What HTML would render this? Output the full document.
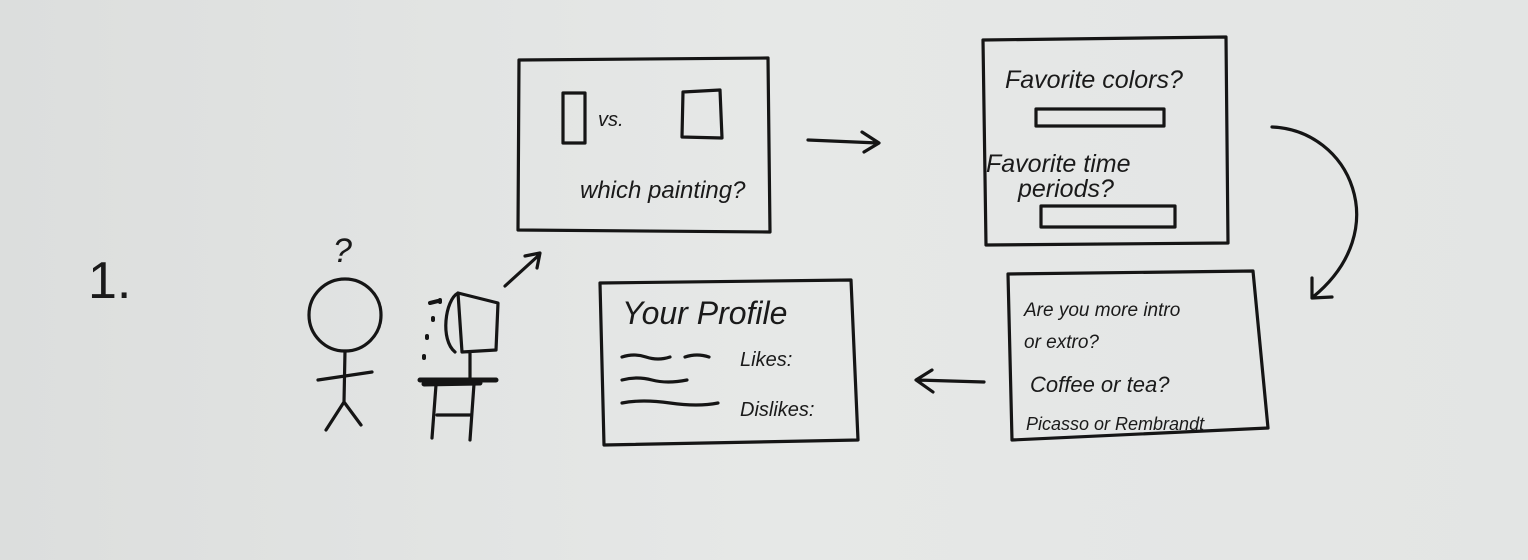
<!DOCTYPE html>
<html><head><meta charset="utf-8"><style>
html,body{margin:0;padding:0;}
body{width:1528px;height:560px;background:linear-gradient(90deg,#dcdedd,#e6e8e7 50%,#e3e5e4);overflow:hidden;}
svg{display:block}
text{font-family:"Liberation Sans",sans-serif;fill:#1a1a1a;font-style:italic}
</style></head><body>
<svg width="1528" height="560" viewBox="0 0 1528 560">
<g fill="none" stroke="#151515" stroke-width="3.2" stroke-linecap="round" stroke-linejoin="round">
<!-- box1 -->
<path d="M519 60 L768 58 L770 232 L518 230 Z"/>
<rect x="563" y="93" width="22" height="50"/>
<path d="M683 92 L720 90 L722 138 L682 137 Z"/>
<!-- arrow right -->
<path d="M808 140 L878 143 M862 132 L879 143 L864 152"/>
<!-- box2 -->
<path d="M983 40 L1226 37 L1228 243 L986 245 Z"/>
<rect x="1036" y="109" width="128" height="17"/>
<rect x="1041" y="206" width="134" height="21"/>
<!-- curved arrow -->
<path d="M1272 127 C1350 130 1395 230 1313 297 M1312 278 L1312 298 L1332 297"/>
<!-- box3 -->
<path d="M1008 274 L1253 271 L1268 428 L1012 440 Z"/>
<!-- arrow left -->
<path d="M984 382 L917 380 M932 370 L916 380 L933 392"/>
<!-- box4 -->
<path d="M600 283 L851 280 L858 440 L604 445 Z"/>
<path d="M622 357 q12-4 24 0 t24 0 M685 357 q12-4 24 0 M622 380 q15-4 30 0 t35 0 M622 403 q20-4 48 0 t48 0"/>
<!-- stick figure -->
<circle cx="345" cy="315" r="36"/>
<path d="M345 351 L344 402 M318 380 L372 372 M344 402 L326 430 M344 402 L361 425"/>
<!-- computer -->
<path d="M458 293 L498 303 L496 350 L462 352 Z M458 293 C445 300 440 340 455 352 M470 352 L470 378"/>
<path d="M420 380 L496 380 M424 384 L480 383" stroke-width="5"/>
<path d="M436 385 L432 438 M474 384 L470 440 M437 415 L471 415"/>
<path d="M440 300 l0 2 M433 318 l0 2 M427 336 l0 2 M424 356 l0 2 M430 303 l8 -2" stroke-width="4"/>
<!-- arrow up -->
<path d="M505 286 L538 256 M525 256 L540 253 L537 268"/>
</g>
<text x="88" y="298" font-size="52" style="font-style:normal">1.</text>
<text x="333" y="262" font-size="34">?</text>
<text x="598" y="126" font-size="20">vs.</text>
<text x="580" y="198" font-size="24">which painting?</text>
<text x="1005" y="88" font-size="25">Favorite colors?</text>
<text x="986" y="172" font-size="25">Favorite time</text>
<text x="1018" y="197" font-size="25">periods?</text>
<text x="1024" y="316" font-size="19">Are you more intro</text>
<text x="1024" y="348" font-size="19">or extro?</text>
<text x="1030" y="392" font-size="22">Coffee or tea?</text>
<text x="1026" y="430" font-size="18">Picasso or Rembrandt</text>
<text x="622" y="324" font-size="32">Your Profile</text>
<text x="740" y="366" font-size="20">Likes:</text>
<text x="740" y="416" font-size="20">Dislikes:</text>
</svg>
</body></html>
